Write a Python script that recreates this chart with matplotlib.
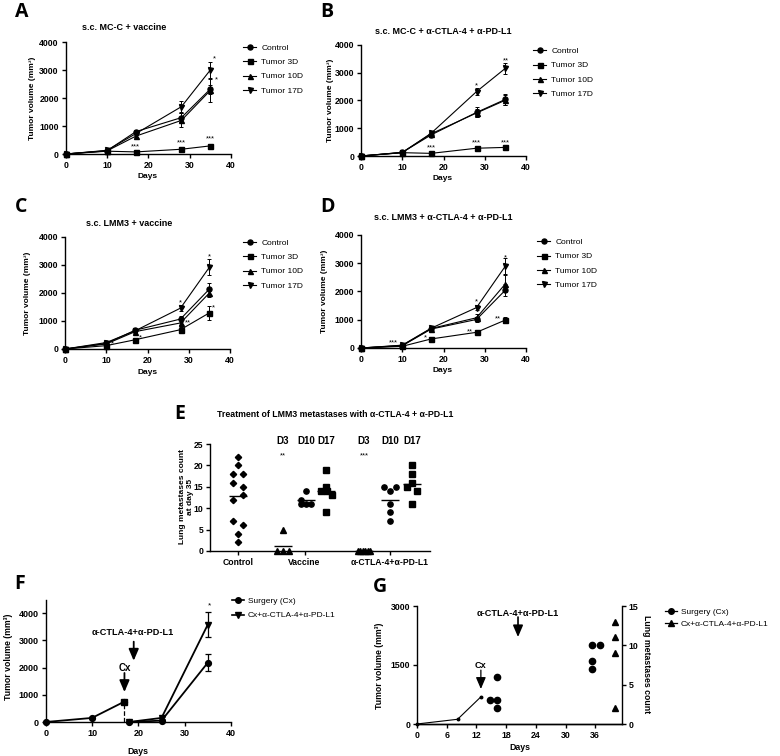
import matplotlib
matplotlib.use('Agg')
import matplotlib.pyplot as plt
from matplotlib.lines import Line2D
import numpy as np

plt.rcParams['font.family'] = ['Liberation Sans', 'DejaVu Sans']
plt.rcParams['axes.linewidth'] = 1.0

W, H = 780, 756

# ---------------- data ----------------
days = [0, 10, 17, 28, 35]
groups = ['Control', 'Tumor 3D', 'Tumor 10D', 'Tumor 17D']
markers = ['o', 's', '^', 'v']

# A: s.c. MC-C + vaccine  (Control, 3D, 10D, 17D)
a_mean = [[0, 120, 800, 1300, 2320],
          [0, 100, 75, 170, 290],
          [0, 110, 640, 1200, 2270],
          [0, 130, 730, 1690, 3000]]
a_err = [[0, 20, 60, 150, 160],
         [0, 10, 20, 30, 50],
         [0, 15, 50, 250, 400],
         [0, 20, 60, 190, 290]]

# B: s.c. MC-C + a-CTLA-4 + a-PD-L1
b_mean = [[0, 130, 760, 1570, 2040],
          [0, 120, 95, 280, 310],
          [0, 130, 800, 1550, 2010],
          [0, 120, 820, 2320, 3160]]
b_err = [[0, 20, 50, 180, 200],
         [0, 10, 20, 30, 30],
         [0, 20, 50, 150, 180],
         [0, 20, 50, 130, 200]]

# C: s.c. LMM3 + vaccine
c_mean = [[0, 200, 670, 1070, 2140],
          [0, 120, 330, 690, 1290],
          [0, 180, 620, 930, 2000],
          [0, 230, 650, 1460, 2920]]
c_err = [[0, 30, 50, 100, 200],
         [0, 20, 40, 80, 260],
         [0, 30, 50, 90, 130],
         [0, 30, 50, 120, 280]]

# D: s.c. LMM3 + a-CTLA-4 + a-PD-L1
d_mean = [[0, 80, 670, 1010, 2050],
          [0, 60, 320, 555, 990],
          [0, 90, 690, 1070, 2270],
          [0, 100, 700, 1430, 2900]]
d_err = [[0, 20, 50, 100, 200],
         [0, 15, 60, 50, 110],
         [0, 20, 50, 120, 300],
         [0, 20, 50, 100, 270]]

# E: lung metastases at day 35 (values and jitter lanes)
e_control = [22, 20, 18, 18, 16, 15, 13, 12, 7, 6, 4, 2]
e_control_lane = [0, 0, -1, 1, -1, 1, 1, -1, -1, 1, 0, 0]
e_vac_d3 = [5, 0, 0, 0]
e_vac_d3_lane = [0, -1.2, 0, 1.2]
e_vac_d10 = [14, 12, 11, 11, 11]
e_vac_d10_lane = [0, -1, -1, 0, 1]
e_vac_d17 = [19, 15, 14, 14, 13, 9]
e_vac_d17_lane = [0, 0, -1, 0.2, 1.2, 0]
e_ici_d3 = [0, 0, 0, 0, 0, 0]
e_ici_d3_lane = [-1.25, -0.75, -0.25, 0.25, 0.75, 1.25]
e_ici_d10 = [15, 15, 14, 11, 9, 7]
e_ici_d10_lane = [-1.25, 1.25, 0, 0, 0, 0]
e_ici_d17 = [20, 18, 16, 15, 14, 11]
e_ici_d17_lane = [0, 0, 0, -1, 1, 0]
e_pos = [1.27, 3.32, 4.36, 5.27, 7.0, 8.18, 9.18]
e_categories = ['Control', 'Vaccine', 'α-CTLA-4+α-PD-L1']
e_cat_pos = [1.27, 4.3, 8.18]
e_day_labels = ['D3', 'D10', 'D17', 'D3', 'D10', 'D17']

# F: surgery
f_pre_days = [0, 10, 17]
f_pre_vol = [0, 150, 750]
f_pre_err = [0, 20, 40]
f_cx_days = [18, 25, 35]
f_cx_vol = [0, 50, 2180]
f_cx_err = [0, 20, 300]
f_ici_days = [18, 25, 35]
f_ici_vol = [0, 150, 3580]
f_ici_err = [0, 30, 450]
f_ici_start = 19

# G: surgery, tumor volume + lung metastases
g_line_days = [0, 8.2, 12.9]
g_line_vol = [0, 120, 690]
g_ici_start = 20.4
g_cx_met_days = [14.7, 16.2, 16.2, 16.2, 35.4, 35.4, 35.4, 36.9]
g_cx_met = [3, 6, 3, 2, 10, 8, 7, 10]
g_ici_met_days = [39.9, 39.9, 39.9, 39.9]
g_ici_met = [13, 11, 9, 2]

fig = plt.figure(figsize=(7.8, 7.56), dpi=100)


def px(x, y):
    return x / W, 1 - y / H


def rect(l, t, r, b):
    return [l / W, 1 - b / H, (r - l) / W, (b - t) / H]


def ticks(ax, xt, yt, xl=None, size=6.3):
    ax.spines[['top', 'right']].set_visible(False)
    ax.set_xticks(xt, [str(t) for t in xt] if xl is None else xl,
                  fontsize=size, fontweight='bold')
    ax.set_yticks(yt, [str(t) for t in yt], fontsize=size, fontweight='bold')
    ax.tick_params(length=3, width=1, pad=2)


def letter(x, y, s):
    fig.text(*px(x, y), s, fontsize=14, fontweight='bold', family='Open Sans',
             ha='center', va='center')


def bold_text(x, y, s, size=6.2, rot=0):
    fig.text(*px(x, y), s, fontsize=size, fontweight='bold', ha='center',
             va='center', rotation=rot)


def growth(r, means, errs, stars, title, title_xy, lab, lab_xy, leg_xy, ylab_xy, days_xy):
    ax = fig.add_axes(r)
    handles = []
    for m, e, mk, g in zip(means, errs, markers, groups):
        ax.errorbar(days, m, yerr=e, color='k', marker=mk, ms=3.6, lw=0.8,
                    elinewidth=0.7, capsize=1.6, capthick=0.7, clip_on=False, zorder=3)
        handles.append(Line2D([], [], color='k', marker=mk, ms=3.6, lw=0.8, label=g))
    ax.set_xlim(0, 40)
    ax.set_ylim(0, 4000)
    ticks(ax, [0, 10, 20, 30, 40], [0, 1000, 2000, 3000, 4000])
    for x, y, s in stars:
        ax.text(x, y, s, fontsize=5.5, ha='center', va='center')
    ax.legend(handles=handles, loc='upper left', bbox_to_anchor=leg_xy, frameon=False,
              fontsize=6, handlelength=1.6, handletextpad=0.6, labelspacing=0.75,
              borderpad=0, borderaxespad=0)
    bold_text(*title_xy, title, size=6.5)
    bold_text(*ylab_xy, 'Tumor volume (mm³)', size=6, rot=90)
    bold_text(*days_xy, 'Days', size=6)
    letter(*lab_xy, lab)
    return ax


a_stars = [(36.1, 3380, '*'), (36.4, 2640, '*'), (16.8, 260, '***'),
           (28.1, 380, '***'), (34.9, 525, '***')]
growth(rect(65.7, 42, 231, 154), a_mean, a_err, a_stars, 's.c. MC-C + vaccine',
       (124, 28), 'A', (22, 12), (1.073, 0.978), (33, 98), (148, 177))

b_stars = [(28.0, 2522, '*'), (35.1, 3423, '**'), (17.1, 300, '***'),
           (28.0, 457, '***'), (35.1, 480, '***')]
growth(rect(361, 45, 526, 156), b_mean, b_err, b_stars,
       's.c. MC-C + α-CTLA-4 + α-PD-L1', (443, 31), 'B', (327, 12),
       (1.042, 0.977), (330, 100), (443, 179))

c_stars = [(35, 3300, '*'), (36.0, 1476, '*'), (29.9, 940, '**'),
           (18.2, 405, '*'), (11.6, 167, '*'), (28, 1640, '*')]
growth(rect(65, 237, 230, 349), c_mean, c_err, c_stars, 's.c. LMM3 + vaccine',
       (129, 223), 'C', (21, 207), (1.079, 0.978), (28, 293), (148, 372))

d_stars = [(28.0, 1640, '*'), (35.1, 3175, '*'), (26.4, 578, '**'),
           (33.3, 1015, '**'), (15.5, 342, '*'), (7.8, 165, '***')]
growth(rect(361, 235, 526, 348), d_mean, d_err, d_stars,
       's.c. LMM3 + α-CTLA-4 + α-PD-L1', (443, 218), 'D', (327, 207),
       (1.067, 0.969), (325, 291), (443, 371))

# ---------------- E ----------------
ax = fig.add_axes(rect(210, 444, 430, 551))
lane_w = 0.218
e_sets = [(e_control, e_control_lane, 'D', 3.2),
          (e_vac_d3, e_vac_d3_lane, '^', 3.8),
          (e_vac_d10, e_vac_d10_lane, 'o', 3.8),
          (e_vac_d17, e_vac_d17_lane, 's', 3.8),
          (e_ici_d3, e_ici_d3_lane, '^', 3.8),
          (e_ici_d10, e_ici_d10_lane, 'o', 3.8),
          (e_ici_d17, e_ici_d17_lane, 's', 3.8)]
for pos, (vals, lanes, mk, ms) in zip(e_pos, e_sets):
    xs = pos + np.array(lanes) * lane_w
    ax.plot(xs, vals, ls='none', marker=mk, ms=ms, color='k', clip_on=False, zorder=3)
    ax.hlines(np.mean(vals), pos - 0.39, pos + 0.39, color='k', lw=1.0, zorder=2)
ax.set_xlim(0, 10)
ax.set_ylim(0, 25)
ticks(ax, e_cat_pos, [0, 5, 10, 15, 20, 25], xl=e_categories, size=6.2)
for pos, s in zip(e_pos[1:], e_day_labels):
    ax.text(pos, 25.8, s, fontsize=7, fontweight='bold', ha='center', va='center', clip_on=False)
ax.text(e_pos[1], 22.3, '**', fontsize=5.5, ha='center', va='center')
ax.text(e_pos[4], 22.3, '***', fontsize=5.5, ha='center', va='center')
bold_text(335, 414, 'Treatment of LMM3 metastases with α-CTLA-4 + α-PD-L1', size=6.3)
bold_text(187, 497, 'Lung metastases count\nat day 35', size=6, rot=90)
letter(180, 414, 'E')

# ---------------- F ----------------
ax = fig.add_axes(rect(45.7, 600, 231, 722))
kw = dict(color='k', lw=1.3, ms=4.2, elinewidth=0.9, capsize=2, capthick=0.9,
          clip_on=False, zorder=3)
ax.errorbar(f_pre_days, f_pre_vol, yerr=f_pre_err, marker='o', **kw)
ax.plot(f_pre_days[-1:], f_pre_vol[-1:], marker='s', ms=4.2, color='k', zorder=4)
ax.errorbar(f_cx_days, f_cx_vol, yerr=f_cx_err, marker='o', **kw)
ax.errorbar(f_ici_days, f_ici_vol, yerr=f_ici_err, marker='v', **kw)
ax.plot([f_pre_days[-1]] * 2, [0, f_pre_vol[-1]], ls='--', color='k', lw=0.9)
ax.set_xlim(0, 40)
ax.set_ylim(0, 4480)
ticks(ax, [0, 10, 20, 30, 40], [0, 1000, 2000, 3000, 4000], size=6.5)
arrow = dict(arrowstyle='-|>,head_length=0.7,head_width=0.3', color='k', lw=1.3,
             mutation_scale=10, shrinkA=0, shrinkB=0)
ax.annotate('', xy=(f_pre_days[-1], 1100), xytext=(f_pre_days[-1], 1800), arrowprops=arrow)
ax.text(f_pre_days[-1], 1980, 'Cx', fontsize=7, fontweight='bold', ha='center', va='center')
ax.annotate('', xy=(f_ici_start, 2250), xytext=(f_ici_start, 2950), arrowprops=arrow)
ax.text(f_ici_start - 0.15, 3300, 'α-CTLA-4+α-PD-L1', fontsize=6.6, fontweight='bold',
        ha='center', va='center')
ax.text(35.3, 4250, '*', fontsize=6, ha='center', va='center')
f_handles = [Line2D([], [], color='k', marker='o', ms=4, lw=1.2, label='Surgery (Cx)'),
             Line2D([], [], color='k', marker='v', ms=4, lw=1.2, label='Cx+α-CTLA-4+α-PD-L1')]
ax.legend(handles=f_handles, loc='upper left', bbox_to_anchor=(1.005, 1.02), frameon=False,
          fontsize=6, handlelength=1.4, handletextpad=0.5, labelspacing=0.75,
          borderpad=0, borderaxespad=0)
bold_text(8.5, 657, 'Tumor volume (mm³)', size=6.3, rot=90)
bold_text(138, 752, 'Days', size=6.3)
letter(20, 584, 'F')

# ---------------- G ----------------
ax = fig.add_axes(rect(417, 606, 622, 724))
ax.plot(g_line_days, g_line_vol, color='k', lw=0.8, marker='o', ms=1.8, clip_on=False, zorder=3)
ax.set_xlim(0, 41.4)
ax.set_ylim(0, 3000)
ticks(ax, [0, 6, 12, 18, 24, 30, 36], [0, 1500, 3000], size=6.3)
ax.annotate('', xy=(g_line_days[-1], 890), xytext=(g_line_days[-1], 1370), arrowprops=dict(
    arrowstyle='-|>,head_length=0.7,head_width=0.3', color='k', lw=0.9,
    mutation_scale=10, shrinkA=0, shrinkB=0))
ax.text(g_line_days[-1], 1500, 'Cx', fontsize=6.6, fontweight='bold', ha='center', va='center')
ax.annotate('', xy=(g_ici_start, 2210), xytext=(g_ici_start, 2720), arrowprops=dict(
    arrowstyle='-|>,head_length=0.7,head_width=0.3', color='k', lw=1.2,
    mutation_scale=10, shrinkA=0, shrinkB=0))
ax.text(g_ici_start, 2820, 'α-CTLA-4+α-PD-L1', fontsize=6.6, fontweight='bold',
        ha='center', va='center')
ax2 = ax.twinx()
ax2.plot(g_cx_met_days, g_cx_met, ls='none', marker='o', ms=4.5, color='k', clip_on=False)
ax2.plot(g_ici_met_days, g_ici_met, ls='none', marker='^', ms=4.5, color='k', clip_on=False)
ax2.set_ylim(0, 15)
ax2.spines[['top', 'left']].set_visible(False)
ax2.set_yticks([0, 5, 10, 15], ['0', '5', '10', '15'], fontsize=6.3, fontweight='bold')
ax2.tick_params(length=3, width=1, pad=2)
g_handles = [Line2D([], [], color='k', marker='o', ms=4, lw=0.9, label='Surgery (Cx)'),
             Line2D([], [], color='k', marker='^', ms=4, lw=0.9, label='Cx+α-CTLA-4+α-PD-L1')]
ax2.legend(handles=g_handles, loc='upper left', bbox_to_anchor=(1.21, 0.979), frameon=False,
           fontsize=6, handlelength=1.4, handletextpad=0.5, labelspacing=0.5,
           borderpad=0, borderaxespad=0)
bold_text(380, 666, 'Tumor volume (mm³)', size=6.3, rot=90)
bold_text(647, 664, 'Lung metastases count', size=6.3, rot=-90)
bold_text(520, 748, 'Days', size=6.3)
letter(380, 587, 'G')

fig.savefig('out.png', dpi=100)
